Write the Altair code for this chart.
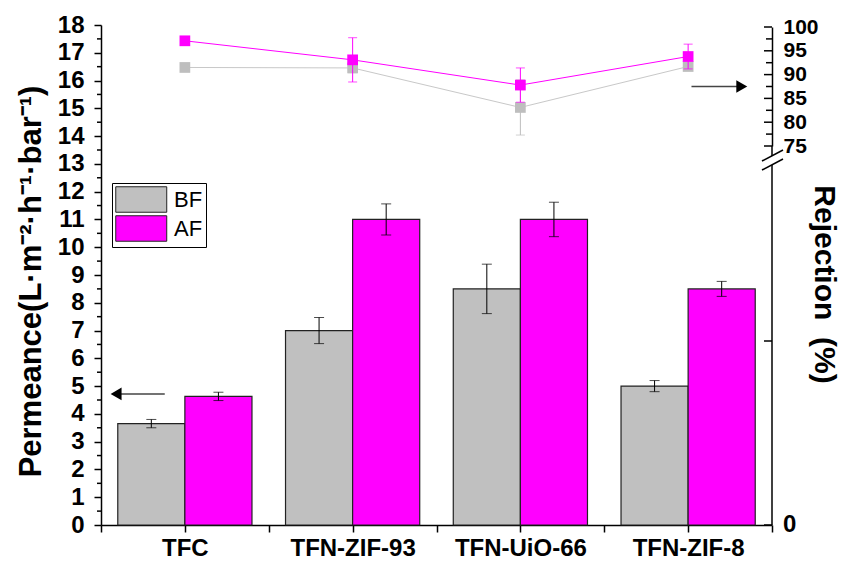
import json

import altair as alt
import pandas as pd

# ---- data -------------------------------------------------------------
categories = ["TFC", "TFN-ZIF-93", "TFN-UiO-66", "TFN-ZIF-8"]
series = ["BF", "AF"]
series_colors = ["#C0C0C0", "#FF00FF"]

# permeance (bars, left axis)
perm_bf = [3.65, 7.0, 8.5, 5.0]
perm_bf_err = [0.15, 0.47, 0.89, 0.2]
perm_af = [4.63, 11.0, 11.0, 8.5]
perm_af_err = [0.15, 0.56, 0.62, 0.27]

# rejection in % (lines, upper right axis)
rej_bf = [91.5, 91.4, 83.1, 91.7]
rej_bf_err = [0.0, 1.0, 5.8, 0.5]
rej_af = [97.1, 93.1, 87.8, 93.8]
rej_af_err = [0.0, 4.65, 3.6, 2.6]

perm_major = list(range(19))
perm_minor = [i + 0.5 for i in range(18)]
rej_ticks = [75 + 2.5 * i for i in range(11)]
x_ticks = [0.5 + 0.5 * i for i in range(9)]

# arrows telling which axis each data set belongs to
arrow_perm = {"y": 4.72, "x_from": 0.88, "x_to": 0.59}
arrow_rej = {"y": 87.5, "x_from": 4.02, "x_to": 4.32}

W, H = 671, 500
BAR_W = 0.4
FONT = "Liberation Sans"
TICK_FONT_SIZE = 24
RIGHT_FONT_SIZE = 21

# ---- tables -----------------------------------------------------------
bar_rows = []
for i, cat in enumerate(categories, start=1):
    for s, vals, errs in (("BF", perm_bf, perm_bf_err), ("AF", perm_af, perm_af_err)):
        x0 = i - BAR_W if s == "BF" else i
        v, e = vals[i - 1], errs[i - 1]
        bar_rows.append(dict(cat=cat, series=s, x0=x0, x1=x0 + BAR_W,
                             xc=x0 + BAR_W / 2, value=v, base=0.0,
                             lo=v - e, hi=v + e))
bars_df = pd.DataFrame(bar_rows)


def rej_table(vals, errs):
    return pd.DataFrame(dict(idx=list(range(1, len(categories) + 1)),
                             value=vals,
                             lo=[v - e for v, e in zip(vals, errs)],
                             hi=[v + e for v, e in zip(vals, errs)]))


rej_bf_df = rej_table(rej_bf, rej_bf_err)
rej_af_df = rej_table(rej_af, rej_af_err)

# ---- scales & axes ------------------------------------------------------
# every layer that shares a scale gets the same axis object, so the
# merged axis stays enabled
x_scale = alt.Scale(domain=[0.5, 4.5], nice=False, zero=False)
perm_scale = alt.Scale(domain=[0, 18], nice=False)
rej_scale = alt.Scale(domain=[75, 100], range=[121, 2], nice=False, zero=False)

x_label_expr = (f"datum.value % 1 === 0 ? {json.dumps([''] + categories)}"
                f"[datum.value] : ''")
x_axis = alt.Axis(values=x_ticks, labelExpr=x_label_expr, title=None,
                  tickSize=7, labelPadding=4, labelAngle=0)

perm_axis = alt.Axis(
    values=perm_major, orient="left", tickSize=7, labelPadding=10,
    title="Permeance(L·m⁻²·h⁻¹·bar⁻¹)",
    titleAngle=270, titleX=-70, titleY=256, titleAlign="center",
    titleBaseline="middle", titleFontSize=31,
)

rej_axis = alt.Axis(
    values=[75, 80, 85, 90, 95, 100], orient="right", ticks=False, tickSize=0,
    labelPadding=11, labelAlign="left", labelFontSize=RIGHT_FONT_SIZE,
    title="Rejection \u00a0(%)",
    titleAngle=90, titleX=51, titleY=259, titleAlign="center",
    titleBaseline="middle",
)


def X(field):
    return alt.X(field, scale=x_scale, axis=x_axis)


def YP(field):
    return alt.Y(field, scale=perm_scale, axis=perm_axis)


def YR(field):
    return alt.Y(field, scale=rej_scale, axis=rej_axis)


# ---- permeance layer (bars) -------------------------------------------
bars = alt.Chart(bars_df).mark_rect(stroke="#222", strokeWidth=1.2).encode(
    x=X("x0:Q"),
    x2="x1:Q",
    y=YP("value:Q"),
    y2="base:Q",
    color=alt.Color("series:N",
                    scale=alt.Scale(domain=series, range=series_colors),
                    legend=alt.Legend(
                        title=None, orient="none", legendX=11, legendY=158,
                        symbolType="M-1,-1H3V1H-1Z", symbolSize=650,
                        symbolStrokeColor="#222", symbolStrokeWidth=1,
                        symbolOpacity=1, labelFont=FONT, labelFontSize=22,
                        labelFontWeight="normal", labelColor="black",
                        strokeColor="black", padding=3, rowPadding=-2.5,
                        labelOffset=32)),
)
bar_err = alt.Chart(bars_df).mark_rule(color="black", strokeWidth=1).encode(
    x=X("xc:Q"), y=YP("lo:Q"), y2="hi:Q")
bar_cap_lo = alt.Chart(bars_df).mark_tick(color="black", thickness=1, size=10,
                                          orient="horizontal").encode(
    x=X("xc:Q"), y=YP("lo:Q"))
bar_cap_hi = bar_cap_lo.encode(y=YP("hi:Q"))

# minor ticks of the permeance axis
perm_minor_ticks = alt.Chart(pd.DataFrame({"v": perm_minor})).mark_rule(
    color="black", strokeWidth=1.5).encode(
    x=alt.value(-4), x2=alt.value(0), y=YP("v:Q"))

arrow_perm_df = pd.DataFrame([arrow_perm])
perm_arrow_line = alt.Chart(arrow_perm_df).mark_rule(color="#444", strokeWidth=1.5).encode(
    x=X("x_from:Q"), x2="x_to:Q", y=YP("y:Q"))
perm_arrow_head = alt.Chart(arrow_perm_df).mark_point(
    shape="triangle-left", filled=True, color="black", size=160, opacity=1).encode(
    x=X("x_to:Q"), y=YP("y:Q"))

perm_layer = alt.layer(bars, bar_err, bar_cap_lo, bar_cap_hi, perm_minor_ticks,
                       perm_arrow_line, perm_arrow_head)


# ---- rejection layer (lines) ------------------------------------------
def rej_series(df, line_color, point_color):
    line = alt.Chart(df).mark_line(color=line_color, strokeWidth=1).encode(
        x=X("idx:Q"), y=YR("value:Q"))
    err = alt.Chart(df).mark_rule(color=point_color, strokeWidth=1).encode(
        x=X("idx:Q"), y=YR("lo:Q"), y2="hi:Q")
    cap_lo = alt.Chart(df).mark_tick(color=point_color, thickness=1, size=9,
                                     orient="horizontal").encode(
        x=X("idx:Q"), y=YR("lo:Q"))
    cap_hi = cap_lo.encode(y=YR("hi:Q"))
    pts = alt.Chart(df).mark_point(shape="square", filled=True, size=115,
                                   color=point_color, opacity=1).encode(
        x=X("idx:Q"), y=YR("value:Q"))
    return [line, err, cap_lo, cap_hi, pts]


rej_tick_df = pd.DataFrame(dict(v=rej_ticks, major=[t % 5 == 0 for t in rej_ticks]))
rej_major = alt.Chart(rej_tick_df).transform_filter("datum.major").mark_rule(
    color="black", strokeWidth=1.5).encode(
    x=alt.value(W - 8), x2=alt.value(W), y=YR("v:Q"))
rej_minor = alt.Chart(rej_tick_df).transform_filter("!datum.major").mark_rule(
    color="black", strokeWidth=1.5).encode(
    x=alt.value(W - 6), x2=alt.value(W), y=YR("v:Q"))

arrow_rej_df = pd.DataFrame([arrow_rej])
rej_arrow_line = alt.Chart(arrow_rej_df).mark_rule(color="#444", strokeWidth=1.5).encode(
    x=X("x_from:Q"), x2="x_to:Q", y=YR("y:Q"))
rej_arrow_head = alt.Chart(arrow_rej_df).mark_point(
    shape="triangle-right", filled=True, color="black", size=160, opacity=1).encode(
    x=X("x_to:Q"), y=YR("y:Q"))

# broken right axis: gap with two slashes, lower part with its own ticks
deco = alt.Chart(pd.DataFrame({"k": [0]}))
axis_parts = [
    deco.mark_rule(color="black", strokeWidth=1.5).encode(
        x=alt.value(W), y=alt.value(121), y2=alt.value(131)),
    deco.mark_rule(color="black", strokeWidth=1.5).encode(
        x=alt.value(W), y=alt.value(140), y2=alt.value(H)),
    deco.mark_rule(color="black", strokeWidth=1.5).encode(
        x=alt.value(W - 10), y=alt.value(136), x2=alt.value(W + 11), y2=alt.value(125)),
    deco.mark_rule(color="black", strokeWidth=1.5).encode(
        x=alt.value(W - 10), y=alt.value(145), x2=alt.value(W + 11), y2=alt.value(134)),
    deco.mark_rule(color="black", strokeWidth=1.5).encode(
        x=alt.value(W - 8), x2=alt.value(W), y=alt.value(316)),
    deco.mark_rule(color="black", strokeWidth=1.5).encode(
        x=alt.value(W - 8), x2=alt.value(W), y=alt.value(H)),
    deco.mark_text(text="0", font=FONT, fontSize=TICK_FONT_SIZE, fontWeight="bold",
                   align="left", baseline="middle", color="black").encode(
        x=alt.value(W + 11), y=alt.value(H)),
]

rej_layer = alt.layer(
    *rej_series(rej_bf_df, "#C8C8C8", "#BEBEBE"),
    *rej_series(rej_af_df, "#FF00FF", "#FF00FF"),
    rej_major, rej_minor, rej_arrow_line, rej_arrow_head, *axis_parts,
)

chart = (
    alt.layer(perm_layer, rej_layer)
    .resolve_scale(y="independent")
    .properties(width=W, height=H,
                padding={"left": 101, "top": 25, "right": 72, "bottom": 37},
                autosize=alt.AutoSizeParams(type="none"),
                background="white")
    .configure_view(stroke=None)
    .configure_axis(
        grid=False, domainColor="black", domainWidth=1.5,
        tickColor="black", tickWidth=1.5,
        labelFont=FONT, labelFontSize=TICK_FONT_SIZE, labelFontWeight="bold",
        labelColor="black", labelOverlap=False, labelBound=False,
        titleFont=FONT, titleFontSize=30, titleFontWeight="bold",
        titleColor="black",
    )
)

chart.save("out.html", embed_options={"renderer": "svg", "actions": False})
